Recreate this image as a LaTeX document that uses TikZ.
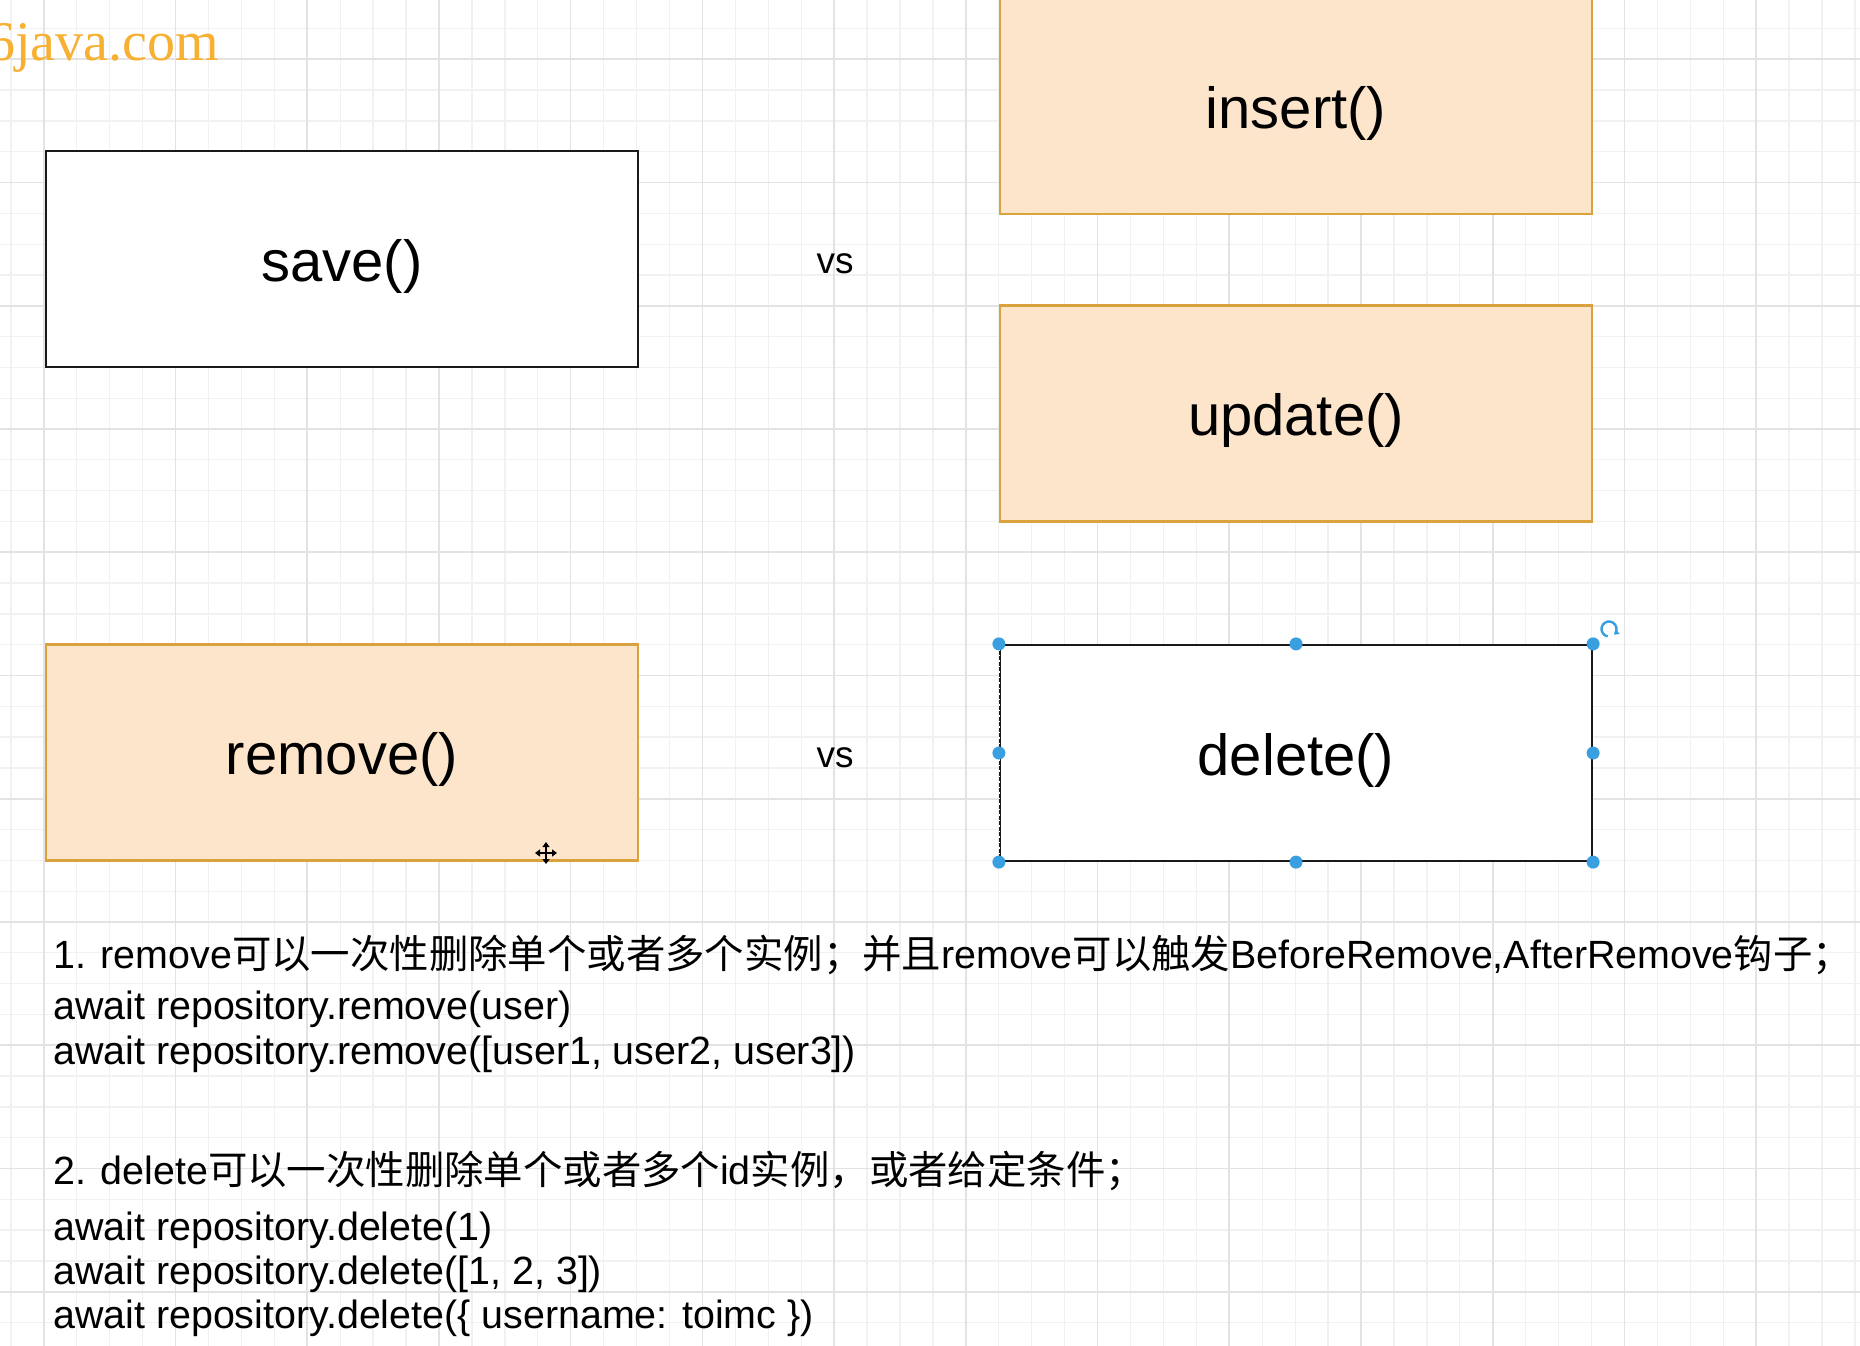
\documentclass[tikz,border=0pt]{standalone}
\usepackage{fontspec}
\setmainfont{Liberation Sans}
\newfontfamily\zhfont{Noto Sans CJK SC}
\newfontfamily\wmfont{Liberation Serif}
\usetikzlibrary{arrows.meta,calc}
\definecolor{gridminor}{HTML}{F1F1F1}
\definecolor{gridmajor}{HTML}{E3E3E3}
\definecolor{peach}{HTML}{FDE5CB}
\definecolor{goldline}{HTML}{D9A23C}
\definecolor{handleblue}{HTML}{3A9FE0}
\definecolor{wmorange}{HTML}{F7B032}
\newcommand\zh[1]{{\zhfont #1}}
\tikzset{
  gminor/.style={draw=gridminor, line width=1.3pt},
  gmajor/.style={draw=gridmajor, line width=1.6pt},
  boxbase/.style={minimum width=592pt, minimum height=216pt, inner sep=0pt, text height=56pt, text depth=12pt, font=\fontsize{58}{58}\selectfont},
  plainbox/.style={boxbase, draw=black!90, line width=2.6pt, fill=white},
  orangebox/.style={boxbase, draw=goldline, line width=2.6pt, fill=peach},
  vslabel/.style={inner sep=0pt, font=\fontsize{37}{37}\selectfont},
  txt/.style={anchor=base west, inner sep=0pt, font=\fontsize{39.4}{39.4}\selectfont},
  handle/.style={fill=handleblue},
}
\begin{document}
\begin{tikzpicture}[x=1pt, y=-1pt]
\useasboundingbox (0,0) rectangle (1860,1346);
\fill[white] (0,0) rectangle (1860,1346);
% grid
\foreach \i in {0,...,56} \draw[gminor] ({10.9+32.93*\i},0) -- ({10.9+32.93*\i},1346);
\foreach \j in {0,...,43} \draw[gminor] (0,{28.5+30.81*\j}) -- (1860,{28.5+30.81*\j});
\foreach \k in {0,...,14} \draw[gmajor] ({43.8+131.72*\k},0) -- ({43.8+131.72*\k},1346);
\foreach \k in {0,...,10} \draw[gmajor] (0,{59.3+123.24*\k}) -- (1860,{59.3+123.24*\k});
% watermark
\node[anchor=base west, inner sep=0pt, text=wmorange, font=\wmfont\fontsize{56}{56}\selectfont] (wm) at (-13,60) {6java.com};
% boxes
\node[plainbox] (save) at (342,259) {save()};
\node[orangebox] (insert) at (1296,106) {insert()};
\node[orangebox] (update) at (1296,413.5) {update()};
\node[orangebox] (remove) at (342,752.5) {remove()};
\node[plainbox, line width=2.2pt] (delete) at (1296,753) {delete()};
\node[vslabel] (vs1) at (835,264) {vs};
\node[vslabel] (vs2) at (835,758) {vs};
% selection overlay on delete
\draw[white, line width=0.8pt, dash pattern=on 1.5pt off 4pt] (delete.north west) -- (delete.south west);
\draw[white, line width=0.8pt, dash pattern=on 1.5pt off 4pt] (delete.north east) -- (delete.south east);
\foreach \a in {north west,north,north east,east,south east,south,south west,west}
  \fill[handle] (delete.\a) circle (6.5);
\coordinate (rot) at (1609,629);
\draw[handleblue, line width=2.4pt, -{Triangle[length=5pt,width=6pt]}] (rot) ++(100:7.5) arc (100:410:7.5);
% move cursor
\coordinate (mv) at (546,853);
\draw[black, line width=1.8pt, {Triangle[length=5pt,width=7pt]}-{Triangle[length=5pt,width=7pt]}] ($(mv)+(-11,0)$) -- ($(mv)+(11,0)$);
\draw[black, line width=1.8pt, {Triangle[length=5pt,width=7pt]}-{Triangle[length=5pt,width=7pt]}] ($(mv)+(0,-11)$) -- ($(mv)+(0,11)$);
% text
\node[txt] (l1) at (53,968) {1. remove\zh{可以一次性删除单个或者多个实例；并且}remove\zh{可以触发}BeforeRemove,AfterRemove\zh{钩子；}};
\node[txt] (l2) at (53,1019.5) {await repository.remove(user)};
\node[txt] (l3) at (53,1064.5) {await repository.remove([user1, user2, user3])};
\node[txt] (l4) at (53,1184.5) {2. delete\zh{可以一次性删除单个或者多个}id\zh{实例，或者给定条件；}};
\node[txt] (l5) at (53,1240.5) {await repository.delete(1)};
\node[txt] (l6) at (53,1284.5) {await repository.delete([1, 2, 3])};
\node[txt] (l7) at (53,1328.5) {await repository.delete(\{ username: toimc \})};
\end{tikzpicture}
\end{document}
